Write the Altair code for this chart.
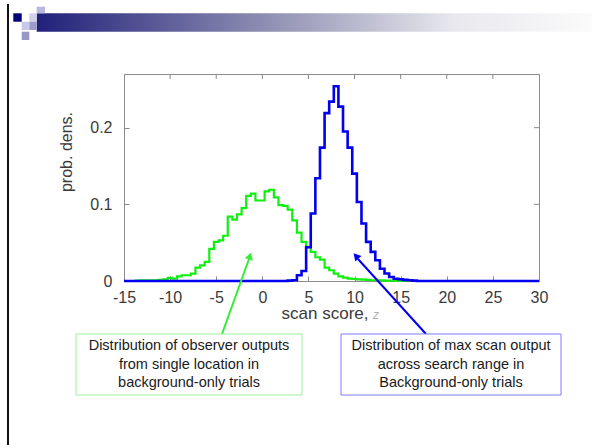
import altair as alt
import pandas as pd

# ---- data (bin centres, bin width 0.5) ----
green_z = [-15, -14.0, -13.5, -13.0, -12.5, -12.0, -11.5, -11.0, -10.5, -10.0, -9.5, -9.0, -8.5, -8.0,
           -7.5, -7.0, -6.5, -6.0, -5.5, -5.0, -4.5, -4.0, -3.5, -3.0, -2.5, -2.0, -1.5,
           -1.0, -0.5, 0.0, 0.5, 1.0, 1.5, 2.0, 2.5, 3.0, 3.5, 4.0, 4.5, 5.0, 5.5, 6.0,
           6.5, 7.0, 7.5, 8.0, 8.5, 9.0, 9.5, 10.0, 10.5, 11.0, 11.5, 12.0, 12.5, 13.0,
           13.5, 14.0, 14.5, 15.0, 16.0]
green_d = [0, 0, 0.0005, 0.0008, 0.001, 0.001, 0.001, 0.0015, 0.002, 0.004, 0.003, 0.006, 0.0075, 0.0075,
           0.0097, 0.0175, 0.0205, 0.025, 0.042, 0.051, 0.053, 0.059, 0.084, 0.080, 0.087, 0.095, 0.111,
           0.114, 0.105, 0.105, 0.117, 0.119, 0.109, 0.099, 0.098, 0.093, 0.079, 0.063, 0.051, 0.044, 0.038, 0.031,
           0.028, 0.0175, 0.014, 0.0097, 0.006, 0.0044, 0.003, 0.0026, 0.002, 0.0018, 0.0015, 0.001, 0.001, 0.0008,
           0.0005, 0.0005, 0.0003, 0, 0]

blue_z = [-15, 2.5, 3.0, 3.5, 4.0, 4.5, 5.0, 5.5, 6.0, 6.5, 7.0, 7.5, 8.0, 8.5, 9.0, 9.5, 10.0,
          10.5, 11.0, 11.5, 12.0, 12.5, 13.0, 13.5, 14.0, 14.5, 15.0, 15.5, 16.0, 16.5, 17.0, 30]
blue_d = [0, 0, 0.0005, 0.001, 0.0075, 0.013, 0.044, 0.088, 0.134, 0.174, 0.219, 0.234, 0.254, 0.2275, 0.195, 0.174, 0.140,
          0.103, 0.075, 0.051, 0.038, 0.027, 0.016, 0.0097, 0.0052, 0.003, 0.0022, 0.0015, 0.0009, 0.0005, 0, 0]

x_ticks = [-15, -10, -5, 0, 5, 10, 15, 20, 25, 30]
y_ticks = [0, 0.1, 0.2]

x_title = "scan score,"
x_title_var = "z"
y_title = "prob. dens."
green_note = ["Distribution of observer outputs", "from single location in", "background-only trials"]
blue_note = ["Distribution of max scan output", "across search range in", "Background-only trials"]

FONT = "Liberation Sans"
W, H = 415, 207

x_scale = alt.Scale(domain=[-15, 30], nice=False, zero=False)
y_scale = alt.Scale(domain=[0, 0.27], nice=False, zero=False)

x_axis = alt.Axis(values=x_ticks, offset=-5, tickSize=5, labelPadding=8, domain=False, grid=False,
                  title=None, labelFontSize=16, labelFont=FONT, labelColor="#3a3a3a",
                  tickColor="#888888", labelExpr="'' + datum.value", labelFlush=False)
y_axis = alt.Axis(values=y_ticks, offset=-5, tickSize=5, labelPadding=12, domain=False, grid=False,
                  title=None, labelFontSize=16, labelFont=FONT, labelColor="#3a3a3a",
                  tickColor="#888888", labelExpr="'' + datum.value", labelFlush=False)

green = alt.Chart(pd.DataFrame({"z": green_z, "d": green_d})).mark_line(
    interpolate="step", color="#11ee11", strokeWidth=2.2
).encode(
    x=alt.X("z:Q", scale=x_scale, axis=x_axis),
    y=alt.Y("d:Q", scale=y_scale, axis=y_axis),
)

blue = alt.Chart(pd.DataFrame({"z": blue_z, "d": blue_d})).mark_line(
    interpolate="step", color="#0000ee", strokeWidth=2.6
).encode(x=alt.X("z:Q", scale=x_scale), y=alt.Y("d:Q", scale=y_scale))

# inward ticks on top and right sides
top_ticks = alt.Chart(pd.DataFrame({"v": x_ticks[1:-1]})).mark_rule(color="#888888", strokeWidth=1).encode(
    x=alt.X("v:Q", scale=x_scale), y=alt.value(0), y2=alt.value(5))
right_ticks = alt.Chart(pd.DataFrame({"v": y_ticks[1:]})).mark_rule(color="#888888", strokeWidth=1).encode(
    y=alt.Y("v:Q", scale=y_scale), x=alt.value(W - 5), x2=alt.value(W))

one = pd.DataFrame({"a": [0]})


def rect(x1, x2, y1, y2, **kw):
    return alt.Chart(one).mark_rect(**kw).encode(
        x=alt.value(x1), x2=alt.value(x2), y=alt.value(y1), y2=alt.value(y2))


def rule(x1, y1, x2, y2, **kw):
    return alt.Chart(one).mark_rule(**kw).encode(
        x=alt.value(x1), y=alt.value(y1), x2=alt.value(x2), y2=alt.value(y2))


# slide decorations (positions relative to plot origin at 124,74)
banner = rect(-87.3, 468, -60.7, -42.3, color=alt.Gradient(
    gradient="linear", x1=0, x2=1, y1=0, y2=0,
    stops=[alt.GradientStop(color="#20207a", offset=0),
           alt.GradientStop(color="#9898b8", offset=0.45),
           alt.GradientStop(color="#e8e8ee", offset=0.75),
           alt.GradientStop(color="#fbfbfb", offset=1)]))
sq_navy = rect(-110.7, -102.3, -60.7, -52.3, color="#00007a")
sq_a = rect(-94.7, -87.3, -60.7, -52.3, color="#d0d0ea")
sq_b = rect(-87.3, -79, -67.3, -60.7, color="#b8b8de")
sq_c = rect(-102.3, -94.7, -52.3, -44, color="#c8c8e8")
sq_d = rect(-94.7, -87.3, -52.3, -44, color="#9c9ccc")
sq_e = rect(-102.3, -94.7, -42.3, -34, color="#9898c8")
left_line = rect(-117, -115, -70, 371, color="#111111")

# annotation boxes
green_box = rect(-48, 178, 260, 321, fill="white", stroke="#9cf09c", strokeWidth=1)
blue_box = rect(217, 437, 260, 321, fill="white", stroke="#7a7aff", strokeWidth=1)

green_arrow = rule(98, 260, 125, 185, color="#33ee33", strokeWidth=2)
blue_arrow = rule(302, 260, 234, 185, color="#0000ee", strokeWidth=2)
green_head = alt.Chart(one).mark_point(shape="triangle-up", filled=True, color="#33ee33", size=70,
                                       angle=19, opacity=1).encode(x=alt.value(126), y=alt.value(182))
blue_head = alt.Chart(one).mark_point(shape="triangle-up", filled=True, color="#0000ee", size=70,
                                      angle=318, opacity=1).encode(x=alt.value(232), y=alt.value(182))

green_txt = alt.Chart(pd.DataFrame({"t": green_note, "yy": [272, 290.5, 309]})).mark_text(
    font=FONT, fontSize=14.5, color="#1a1a1a", align="center", baseline="middle").encode(
    x=alt.value(65), y=alt.Y("yy:Q", scale=None), text="t:N")
blue_txt = alt.Chart(pd.DataFrame({"t": blue_note, "yy": [272, 290.5, 309]})).mark_text(
    font=FONT, fontSize=14.5, color="#1a1a1a", align="center", baseline="middle").encode(
    x=alt.value(327), y=alt.Y("yy:Q", scale=None), text="t:N")

xt1 = alt.Chart(pd.DataFrame({"t": [x_title]})).mark_text(
    font=FONT, fontSize=17, color="#3a3a3a", align="right", baseline="middle").encode(
    x=alt.value(244.5), y=alt.value(240), text="t:N")
xt2 = alt.Chart(pd.DataFrame({"t": [x_title_var]})).mark_text(
    font=FONT, fontSize=12, color="#b0b0b0", align="left", baseline="middle", fontStyle="italic").encode(
    x=alt.value(249), y=alt.value(241), text="t:N")
yt = alt.Chart(pd.DataFrame({"t": [y_title]})).mark_text(
    font=FONT, fontSize=16, color="#3a3a3a", align="center", baseline="middle", angle=270).encode(
    x=alt.value(-57), y=alt.value(78), text="t:N")

chart = alt.layer(
    banner, sq_navy, sq_a, sq_b, sq_c, sq_d, sq_e, left_line,
    green, blue, top_ticks, right_ticks,
    green_arrow, blue_arrow, green_head, blue_head,
    green_box, blue_box, green_txt, blue_txt, xt1, xt2, yt,
).properties(
    width=W, height=H,
    padding={"left": 124, "top": 74, "right": 53, "bottom": 164},
    autosize=alt.AutoSizeParams(type="none"),
    background="white",
).configure_view(stroke="#8c8c8c", strokeWidth=1)

chart.save("out.html", embed_options={"renderer": "svg", "actions": False})
